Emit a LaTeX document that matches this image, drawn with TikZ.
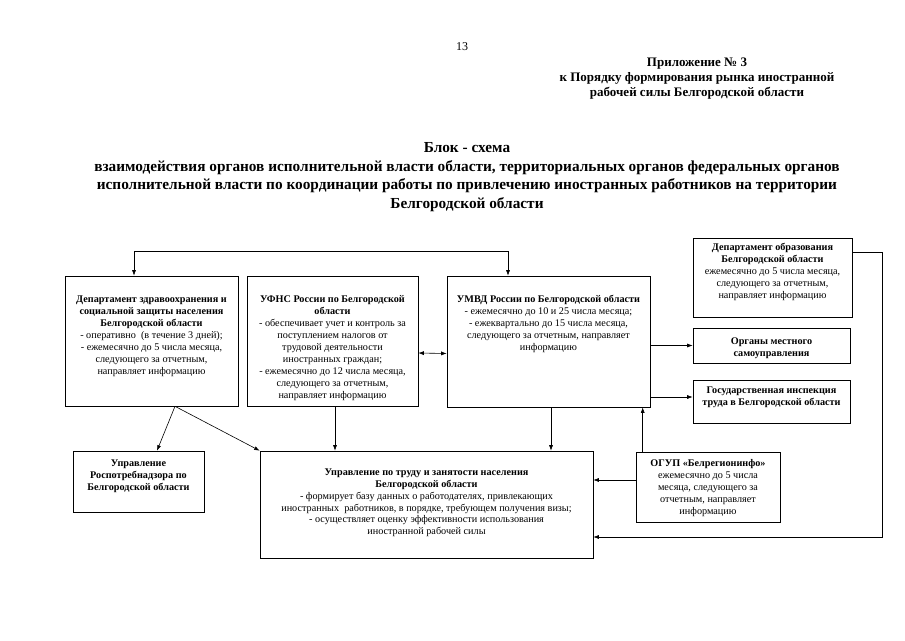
\documentclass[tikz,border=0pt]{standalone}
\usepackage{fontspec}
\setmainfont{Liberation Serif}
\usetikzlibrary{arrows.meta}

% top-aligned text inside a box of fixed size: width, height, top gap, text
\newcommand{\inbox}[4]{\parbox[c][#2][t]{#1}{\centering\vspace*{#3}\strut#4}}

\tikzset{
  box/.style={draw, line width=0.6pt, inner sep=0pt,
    font=\fontsize{10.2}{11.9}\selectfont},
  link/.style={line width=0.6pt}
}

\begin{document}
\begin{tikzpicture}[x=1pt, y=-1pt, >={Latex[length=5.5pt,width=4pt]}]
    \useasboundingbox (0,0) rectangle (905,640);

    % Page number and header
    \node[font=\fontsize{12}{14}\selectfont] (page) at (462,47) {13};
    \node[align=center, font=\bfseries\fontsize{13}{15}\selectfont] (annex) at (697,79)
        {Приложение № 3\\к Порядку формирования рынка иностранной\\рабочей силы Белгородской области};

    % Title
    \node[align=center, font=\bfseries\fontsize{15.3}{18.5}\selectfont] (title) at (467,177)
        {Блок - схема\\
         взаимодействия органов исполнительной власти области, территориальных органов федеральных органов\\
         исполнительной власти по координации работы по привлечению иностранных работников на территории\\
         Белгородской области};

    % Upper row of bodies
    \node[box] (zdrav) at (151.5,341) {\inbox{173pt}{130pt}{18.5pt}{%
        \textbf{Департамент здравоохранения и}\\
        \textbf{социальной защиты населения}\\
        \textbf{Белгородской области}\\
        - оперативно~ (в течение 3 дней);\\
        - ежемесячно до 5 числа месяца,\\
        следующего за отчетным,\\
        направляет информацию}};
    \node[box] (ufns) at (332.5,341) {\inbox{171pt}{130pt}{18.5pt}{%
        \textbf{УФНС России по Белгородской}\\
        \textbf{области}\\
        - обеспечивает учет и контроль за\\
        поступлением налогов от\\
        трудовой деятельности\\
        иностранных граждан;\\
        - ежемесячно до 12 числа месяца,\\
        следующего за отчетным,\\
        направляет информацию}};
    \node[box] (umvd) at (548.5,341.5) {\inbox{203pt}{131pt}{18.5pt}{%
        \textbf{УМВД России по Белгородской области}\\
        - ежемесячно до 10 и 25 числа месяца;\\
        - ежеквартально до 15 числа месяца,\\
        следующего за отчетным, направляет\\
        информацию}};

    % Right column
    \node[box] (obr) at (772.5,277.5) {\inbox{159pt}{79pt}{4.5pt}{%
        \textbf{Департамент образования}\\
        \textbf{Белгородской области}\\
        ежемесячно до 5 числа месяца,\\
        следующего за отчетным,\\
        направляет информацию}};
    \node[box] (organy) at (771.5,345.5) {\inbox{157pt}{35pt}{8pt}{%
        \textbf{Органы местного}\\
        \textbf{самоуправления}}};
    \node[box] (insp) at (771.5,401.5) {\inbox{157pt}{43pt}{5pt}{%
        \textbf{Государственная инспекция}\\
        \textbf{труда в Белгородской области}}};

    % Lower row
    \node[box] (rosp) at (138.5,481.5) {\inbox{131pt}{61pt}{7pt}{%
        \textbf{Управление}\\
        \textbf{Роспотребнадзора по}\\
        \textbf{Белгородской области}}};
    \node[box] (upt) at (426.5,504.5) {\inbox{333pt}{107pt}{16pt}{%
        \textbf{Управление по труду и занятости населения}\\
        \textbf{Белгородской области}\\
        - формирует базу данных о работодателях, привлекающих\\
        иностранных~ работников, в порядке, требующем получения визы;\\
        - осуществляет оценку эффективности использования\\
        иностранной рабочей силы}};
    \node[box] (ogup) at (708,487) {\inbox{144pt}{70pt}{6.5pt}{%
        \textbf{ОГУП «Белрегионинфо»}\\
        ежемесячно до 5 числа\\
        месяца, следующего за\\
        отчетным, направляет\\
        информацию}};

    % Connectors
    \draw[link,<->] ([xshift=-17.5pt]zdrav.north) -- ++(0,-24) -| ([xshift=-40.5pt]umvd.north);
    \draw[link,<->] ([yshift=-12pt]ufns.east) -- ([yshift=-12pt]umvd.west);
    \draw[link,->] ([xshift=23.5pt]zdrav.south) -- ([xshift=18.5pt]rosp.north);
    \draw[link,->] ([xshift=23.5pt]zdrav.south) -- (upt.north west);
    \draw[link,->] ([xshift=2.5pt]ufns.south) -- ([xshift=2.5pt]ufns.south |- upt.north);
    \draw[link,->] ([xshift=2.5pt]umvd.south) -- ([xshift=2.5pt]umvd.south |- upt.north);
    \draw[link,->] (umvd.east |- organy.west) -- (organy.west);
    \draw[link,->] ([yshift=4.5pt]insp.west -| umvd.east) -- ([yshift=4.5pt]insp.west);
    \draw[link,->] ([xshift=7pt]ogup.north west) -- ([xshift=7pt]ogup.north west |- umvd.south);
    \draw[link,->] ([yshift=7pt]ogup.west) -- ([yshift=7pt]ogup.west -| upt.east);
    \draw[link,->] ([yshift=25.5pt]obr.east) -- ++(30,0) |- ([yshift=-32.5pt]upt.east);
\end{tikzpicture}
\end{document}
